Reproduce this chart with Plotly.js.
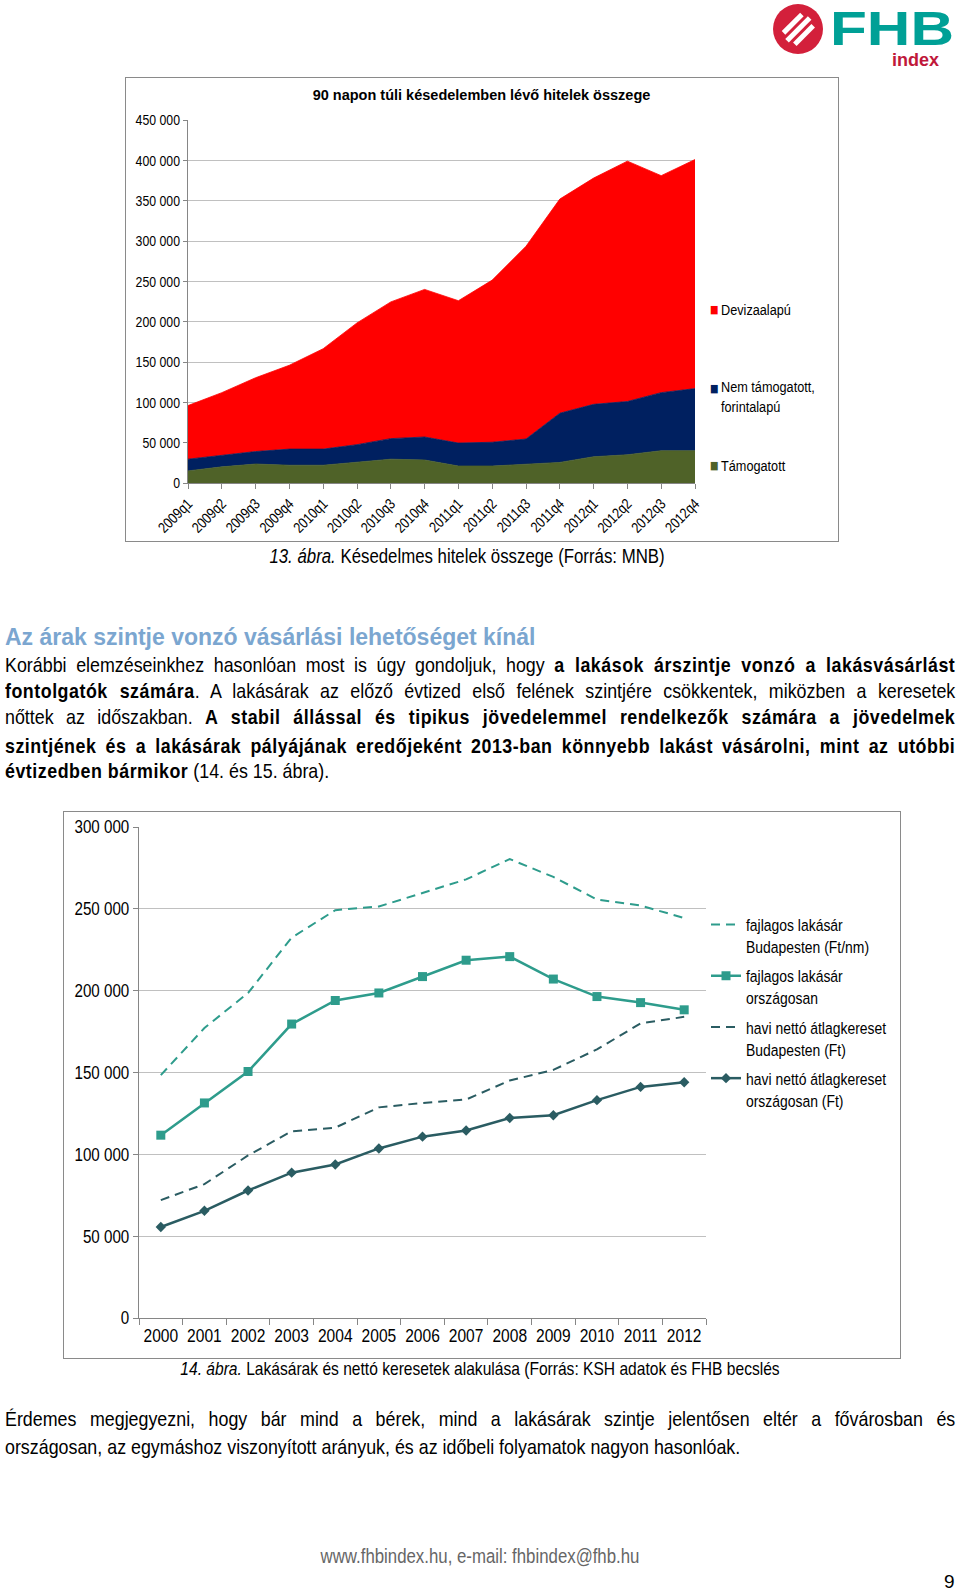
<!DOCTYPE html>
<html><head><meta charset="utf-8">
<script src="https://cdn.plot.ly/plotly-3.0.1.min.js"></script>
<style>
body{margin:0;width:960px;height:1592px;background:#fff;position:relative;overflow:hidden;
 font-family:"Liberation Sans",Arial,sans-serif;color:#000}
.abs{position:absolute}
.frame{position:absolute;border:1px solid #8a8a8a;box-sizing:border-box;pointer-events:none}
.ln{position:absolute;left:5px;width:1118px;font-size:21px;line-height:26px;text-align:justify;text-align-last:justify;
 transform:scaleX(0.85);transform-origin:0 0}
.ln b{letter-spacing:0.6px}
.ln.last{text-align:left;text-align-last:left}
.cap{position:absolute;left:0;width:960px;text-align:center;line-height:24px;transform:scaleX(0.82);transform-origin:480px 0}
</style></head>
<body>
<svg class="abs" style="left:770px;top:0" width="190" height="75">
 <circle cx="28" cy="29" r="25" fill="#D3203B"/>
 <g transform="rotate(-45 28 29)" fill="#fff">
  <rect x="15" y="19" width="26" height="5"/>
  <rect x="12" y="27" width="32" height="5"/>
  <rect x="15" y="35" width="26" height="5"/>
 </g>
 <text x="60" y="45" font-family="Liberation Sans, Arial, sans-serif" font-weight="bold" font-size="49" fill="#00A096" textLength="124" lengthAdjust="spacingAndGlyphs">FHB</text>
 <text x="122" y="66" font-family="Liberation Sans, Arial, sans-serif" font-weight="bold" font-size="18" fill="#C0183A">index</text>
</svg>

<div id="c1" class="abs" style="left:125px;top:77px;width:713px;height:464px"></div>
<div class="frame" style="left:125px;top:77px;width:714px;height:465px"></div>
<div class="cap" style="left:-13px;top:544px;font-size:20.5px"><i>13. ábra.</i> Késedelmes hitelek összege (Forrás: MNB)</div>

<div class="abs" style="left:5px;top:623px;font-size:23px;line-height:28px;font-weight:bold;color:#7BA6D0">Az árak szintje vonzó vásárlási lehetőséget kínál</div>
<div class="ln" style="top:652px">Korábbi elemzéseinkhez hasonlóan most is úgy gondoljuk, hogy <b>a lakások árszintje vonzó a lakásvásárlást</b></div>
<div class="ln" style="top:678px"><b>fontolgatók számára</b>. A lakásárak az előző évtized első felének szintjére csökkentek, miközben a keresetek</div>
<div class="ln" style="top:704px">nőttek az időszakban. <b>A stabil állással és tipikus jövedelemmel rendelkezők számára a jövedelmek</b></div>
<div class="ln" style="top:733px"><b>szintjének és a lakásárak pályájának eredőjeként 2013-ban könnyebb lakást vásárolni, mint az utóbbi</b></div>
<div class="ln last" style="top:758px"><b>évtizedben bármikor</b> (14. és 15. ábra).</div>

<div id="c2" class="abs" style="left:63px;top:811px;width:837px;height:547px"></div>
<div class="frame" style="left:63px;top:811px;width:838px;height:548px"></div>
<div class="cap" style="top:1357px;font-size:19px"><i>14. ábra.</i> Lakásárak és nettó keresetek alakulása (Forrás: KSH adatok és FHB becslés</div>

<div class="ln" style="top:1406px">Érdemes megjegyezni, hogy bár mind a bérek, mind a lakásárak szintje jelentősen eltér a fővárosban és</div>
<div class="ln last" style="top:1434px">országosan, az egymáshoz viszonyított arányuk, és az időbeli folyamatok nagyon hasonlóak.</div>

<div class="cap" style="top:1544px;font-size:20.5px;color:#666">www.fhbindex.hu, e-mail: fhbindex@fhb.hu</div>
<div class="abs" style="left:944px;top:1570px;font-size:19px;line-height:24px">9</div>

<script>
// ---- Chart 13 data (HUF million) ----
const quarters = ['2009q1','2009q2','2009q3','2009q4','2010q1','2010q2','2010q3','2010q4',
                  '2011q1','2011q2','2011q3','2011q4','2012q1','2012q2','2012q3','2012q4'];
const tamogatott    = [15000,20000,23500,22000,22000,25500,29500,28500,21000,21000,23500,25500,32500,35000,40000,40000];
const nemTamogatott = [14500,14500,15500,20000,20000,22000,25500,28500,28500,29500,31000,61000,65000,66000,72000,77000];
const devizaalapu   = [66500,77500,91500,104000,124500,151000,169500,183000,176500,201000,239000,265500,280500,298000,269000,284000];
const stackNames = ['Támogatott','Nem támogatott,<br>forintalapú','Devizaalapú'];

// ---- Chart 14 data ----
const years = ['2000','2001','2002','2003','2004','2005','2006','2007','2008','2009','2010','2011','2012'];
const budapestLakasar = [148400,177200,198600,232400,249200,251400,259700,268000,280400,269500,255700,252000,244400];
const orszagosLakasar = [111700,131400,150600,179600,194000,198600,208600,218600,220800,207100,196400,192700,188300];
const budapestKereset = [72000,81800,99300,114100,116300,128700,131400,133500,145100,151600,164100,180000,184000];
const orszagosKereset = [55600,65500,77900,88800,93800,103600,110800,114600,122200,123900,133100,141200,144000];
const lineNames = ['fajlagos lakásár<br>Budapesten (Ft/nm)','fajlagos lakásár<br>országosan',
                   'havi nettó átlagkereset<br>Budapesten (Ft)','havi nettó átlagkereset<br>országosan (Ft)'];

const F = '"Liberation Sans",Arial,sans-serif';
const cfg = {displayModeBar:false, staticPlot:true};

// narrow (Arial Narrow–like) look: squeeze text horizontally around its anchor
function squeeze(gd, sel, k){
  gd.querySelectorAll(sel).forEach(t=>{
    const x = parseFloat(t.getAttribute('x'))||0, y = parseFloat(t.getAttribute('y'))||0;
    const tr = t.getAttribute('transform')||'';
    t.setAttribute('transform', tr+' translate('+x+','+y+') scale('+k+',1) translate('+(-x)+','+(-y)+')');
  });
}

const cols = ['#4F6228','#002060','#FF0000'];
const series = [tamogatott, nemTamogatott, devizaalapu];
const t1 = series.map((s,i)=>({
  x: quarters, y: s, type:'scatter', mode:'lines', stackgroup:'one',
  line:{width:0.8, color:cols[i]}, fillcolor: cols[i], name: stackNames[i], showlegend:false
}));

function px2x(p){return (p-188)/507;}
function px2y(p){return (483-p)/363;}
const legAnn = [];
const legItems = [[stackNames[2], cols[2], 309, 309],[stackNames[1], cols[1], 388, 396],[stackNames[0], cols[0], 465, 465]];
legItems.forEach(([t,c,ys,yt])=>{
  legAnn.push({xref:'paper',yref:'paper',x:px2x(707),y:px2y(ys),xanchor:'left',yanchor:'middle',showarrow:false,
    text:'<span style="color:'+c+'">■</span>', font:{size:11,family:'DejaVu Sans'}});
  legAnn.push({xref:'paper',yref:'paper',x:px2x(719),y:px2y(yt),xanchor:'left',yanchor:'middle',showarrow:false,align:'left',
    text:t, font:{size:15.5,family:F,color:'#000'}});
});

const L1 = {
  width:713, height:464, margin:{l:63,r:143,t:43,b:58,autoexpand:false},
  paper_bgcolor:'rgba(0,0,0,0)', plot_bgcolor:'rgba(0,0,0,0)',
  separators:', ', font:{family:F,size:14,color:'#000'},
  title:{text:'<b>90 napon túli késedelemben lévő hitelek összege</b>', x:0.5, xref:'container', xanchor:'center',
         y:1-18/464, yref:'container', yanchor:'middle', font:{size:14.5,family:F,color:'#000'}},
  xaxis:{type:'category', range:[0,15], tickangle:-45, ticks:'outside', ticklen:5, tickcolor:'#868686',
         showline:true, linecolor:'#868686', showgrid:false, tickfont:{size:15}},
  yaxis:{range:[0,450000], dtick:50000, tickformat:',d', showgrid:true, gridcolor:'#C0C0C0',
         showline:true, linecolor:'#868686', ticks:'outside', ticklen:4, tickcolor:'#868686', zeroline:false,
         tickfont:{size:15}},
  showlegend:false, annotations: legAnn
};
Plotly.newPlot('c1', t1, L1, cfg).then(gd=>{
  squeeze(gd, '.xtick text, .ytick text, .annotation-text', 0.82);
});

const light = '#2E9C8C', dark = '#2A5C62';
const t2 = [
  {x:years, y:budapestLakasar, name:lineNames[0], mode:'lines', line:{color:light,width:2,dash:'9px,6px'}, legendgroup:'a'},
  {x:years, y:orszagosLakasar, name:lineNames[1], mode:'lines+markers', line:{color:light,width:2.5},
   marker:{symbol:'square',size:9,color:light}, legendgroup:'b'},
  {x:years, y:budapestKereset, name:lineNames[2], mode:'lines', line:{color:dark,width:2,dash:'9px,6px'}, legendgroup:'c'},
  {x:years, y:orszagosKereset, name:lineNames[3], mode:'lines+markers', line:{color:dark,width:2.5},
   marker:{symbol:'diamond',size:8,color:dark}, legendgroup:'d'}
].map(t=>Object.assign({type:'scatter'},t));

const L2 = {
  width:837, height:547, margin:{l:76,r:194,t:16,b:40,autoexpand:false},
  paper_bgcolor:'rgba(0,0,0,0)', plot_bgcolor:'rgba(0,0,0,0)',
  separators:', ', font:{family:F,size:17,color:'#000'},
  xaxis:{type:'category', range:[-0.5,12.5], tickson:'boundaries', ticks:'outside', ticklen:6, tickcolor:'#868686',
         showline:true, linecolor:'#868686', showgrid:false, tickangle:0, tickfont:{size:19}},
  yaxis:{range:[0,300000], dtick:50000, tickformat:',d', showgrid:true, gridcolor:'#C0C0C0',
         showline:true, linecolor:'#868686', ticks:'outside', ticklen:5, tickcolor:'#868686', zeroline:false,
         tickfont:{size:18.5}},
  showlegend:true,
  legend:{x:1.0, xanchor:'left', y:(1318-907)/491, yanchor:'top', font:{size:17,family:F}, valign:'top',
          traceorder:'grouped', tracegroupgap:4, bgcolor:'rgba(0,0,0,0)'}
};
Plotly.newPlot('c2', t2, L2, cfg).then(gd=>{
  squeeze(gd, '.xtick text, .ytick text, .legendtext', 0.82);
});
</script>
</body></html>
